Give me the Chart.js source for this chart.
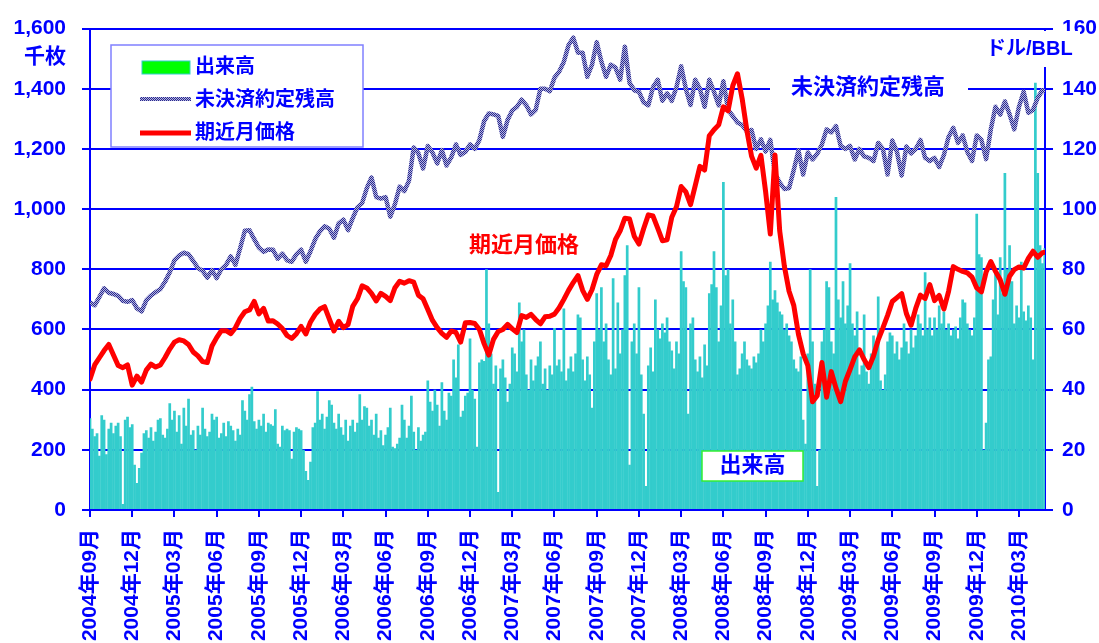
<!DOCTYPE html>
<html><head><meta charset="utf-8">
<script src="https://cdn.jsdelivr.net/npm/chart.js@4.4.0/dist/chart.umd.min.js"></script>
<style>html,body{margin:0;padding:0;background:#fff}#wrap{width:1099px;height:643px;position:relative}</style>
</head><body><div id="wrap"><canvas id="c"></canvas></div>
<script>
// quarterly tick labels (every 3 months from 2004-09)
const tickLabels = ['2004年09月','2004年12月','2005年03月','2005年06月','2005年09月','2005年12月',
 '2006年03月','2006年06月','2006年09月','2006年12月','2007年03月','2007年06月','2007年09月','2007年12月',
 '2008年03月','2008年06月','2008年09月','2008年12月','2009年03月','2009年06月','2009年09月','2009年12月','2010年03月'];
const monthsShown = 67.85;
const volPerMonth = 6;   // volume samples per month
const linePerMonth = 3;  // price / open-interest samples per month

// 出来高 (千枚)
const volume = [
305,270,245,255,180,315, 300,185,270,290,255,280, 290,245,20,300,310,275, 285,150,90,140,190,255,
265,240,275,230,260,300, 305,250,240,270,355,300, 330,260,315,220,340,280, 370,250,265,200,280,250,
340,270,245,260,320,300, 310,240,255,290,245,295, 280,265,230,270,250,365, 330,300,385,410,295,270,
300,280,320,260,290,285, 280,335,220,210,280,265, 270,265,170,260,275,270, 265,200,130,100,160,275,
290,395,300,320,270,310, 365,350,290,270,320,275, 250,300,230,280,300,260, 290,385,300,345,340,280,
300,250,320,240,265,215, 250,275,340,210,205,220, 240,350,300,240,280,380, 260,200,275,230,250,260,
430,360,330,400,350,280, 425,330,300,390,380,500, 440,550,310,330,380,390, 570,400,370,210,490,500,
495,800,620,520,420,480, 60,470,500,440,360,420, 540,520,460,690,560,600, 450,400,500,430,480,510,
560,420,470,400,480,450, 605,480,500,460,670,430, 470,510,460,520,650,640, 500,430,510,450,340,560,
720,600,740,560,620,500, 450,770,470,690,520,600, 780,880,150,560,620,520, 740,450,320,80,480,540,
460,700,600,570,620,590, 640,560,530,470,560,520, 860,760,740,320,620,640, 500,460,510,440,550,480,
720,750,860,740,560,680, 1090,780,800,620,700,560, 450,470,520,560,500,480, 470,510,490,520,600,560,
620,680,825,700,730,690, 660,650,600,620,580,560, 500,470,460,510,300,220, 520,800,560,420,80,200,
560,600,760,740,560,520, 1040,700,640,760,620,680, 820,620,580,660,450,480, 650,460,420,520,580,540,
710,430,400,450,560,590, 580,520,560,500,540,620, 560,520,600,540,580,650, 620,580,790,600,640,580,
640,600,680,620,660,600, 620,580,600,610,570,640, 700,690,620,600,580,640, 985,850,840,200,290,500,
510,700,800,650,840,720, 1120,800,880,760,620,680, 640,825,660,630,680,640, 500,1420,1120,880,820,870
];

// 未決済約定残高 (千枚)
const openInterest = [
690,680,708,737,722,718,712,695,692,698,
670,660,697,713,724,734,759,790,830,846,
855,850,828,804,795,772,797,771,800,815,
843,815,870,928,930,900,872,858,866,865,
835,852,830,825,850,865,825,860,900,926,
943,935,905,952,965,930,970,1006,1020,1070,
1105,1040,1035,1040,975,1017,1075,1060,1095,1205,
1185,1135,1210,1188,1152,1196,1145,1172,1215,1180,
1190,1215,1200,1230,1292,1318,1315,1310,1240,1296,
1328,1340,1364,1345,1315,1330,1400,1400,1392,1437,
1457,1490,1545,1570,1520,1520,1440,1480,1555,1490,
1440,1480,1470,1430,1540,1420,1395,1390,1355,1345,
1405,1430,1360,1385,1360,1405,1475,1400,1346,1430,
1400,1340,1430,1390,1345,1425,1330,1309,1288,1280,
1258,1263,1200,1232,1192,1230,1118,1088,1067,1070,
1130,1195,1115,1188,1165,1184,1215,1265,1255,1276,
1210,1200,1210,1165,1200,1175,1170,1160,1220,1200,
1115,1228,1190,1112,1208,1185,1200,1230,1170,1160,
1170,1140,1180,1240,1270,1220,1245,1190,1160,1245,
1230,1166,1265,1340,1314,1358,1315,1265,1340,1390,
1320,1330,1370,1395,1390
];

// 期近月価格 (ドル/BBL)
const price = [
43.5,48.2,50.6,53,55,51.5,48,47.3,48.2,41.5,
44.5,42.5,46.5,48.5,47.5,48.2,50.7,53.5,55.8,56.6,
56.2,55,52.5,51.2,49.3,49,54.5,57.3,59.6,59.6,
58.6,60.6,63.7,65.9,66.5,69.3,65.2,67,62.8,62.9,
61.8,60.3,58,57,58.6,61,58.5,62.5,65,66.8,
67.6,63.5,59.5,62.7,60.6,61.6,67.7,70.2,74.5,73.8,
72,69.5,72,71,69.6,73.9,76,75.4,76.2,75.7,
71.4,70.2,66.6,63,60.6,58.7,57.4,59.5,59,55.8,
62.2,62.3,62,60,55.3,51.5,56.7,59.3,60,61.7,
60.2,59,64.6,64,65,63.3,61.9,64.2,64.4,65.1,
67.2,70,73,75.6,77.9,73,70,73.2,78.3,81.5,
81.2,84.6,89.9,92.8,97,96.7,91,88.4,93.5,98.1,
97.7,93.7,89.5,89.8,97.3,100.8,107.5,105.7,101.5,107.8,
114.2,113,124.4,126.4,128,134,132.7,141,145,136.7,
126.2,117.6,113.6,117.9,105.8,91.7,118,92.8,81,72.7,
68,58.4,52,48,36,38,49,37.5,46,40.5,
36,42.7,46.7,50.9,53.2,50,47.3,51.2,56.6,60.5,
64.7,69.3,70.6,71.9,65.3,61.4,67,71.4,70.3,74.9,
69.6,71.3,66.8,72.7,80.9,80,79.3,78.8,77.4,73.8,
72.5,79.1,82.6,79.3,76.5,71.7,77.7,79.9,80.8,80.4,
83.6,86,84,85.5,85.8
];

const BLUE = '#0000ff';
const FONT = "'Liberation Sans','Noto Sans CJK JP',Arial,sans-serif";
const canvas = document.getElementById('c');
const ctx0 = canvas.getContext('2d');

function oiPattern(){
  const p = document.createElement('canvas'); p.width = 2; p.height = 2;
  const g = p.getContext('2d');
  g.fillStyle = '#b4b4e2'; g.fillRect(0,0,2,2);
  g.fillStyle = '#2a2a8c'; g.fillRect(0,0,1,1); g.fillRect(1,1,1,1);
  return ctx0.createPattern(p, 'repeat');
}
const pat = oiPattern();

const overlay = {
  id: 'overlay',
  afterDraw(chart){
    const c = chart.ctx;
    c.save();
    // legend
    c.fillStyle = '#fff'; c.fillRect(111,45,252,102);
    c.strokeStyle = '#8080ff'; c.lineWidth = 1.5; c.strokeRect(111,45,252,102);
    c.fillStyle = '#00ff00'; c.fillRect(142,61,48,13);
    c.strokeStyle = '#33cccc'; c.lineWidth = 1; c.strokeRect(142,61,48,13);
    c.strokeStyle = pat; c.lineWidth = 4; c.beginPath(); c.moveTo(140,99); c.lineTo(191,99); c.stroke();
    c.strokeStyle = '#ff0000'; c.lineWidth = 5; c.beginPath(); c.moveTo(140,133); c.lineTo(191,133); c.stroke();
    c.fillStyle = BLUE; c.textBaseline = 'middle'; c.textAlign = 'left';
    c.font = 'bold 20px ' + FONT;
    c.fillText('出来高', 195, 67);
    c.fillText('未決済約定残高', 195, 100);
    c.fillText('期近月価格', 195, 133);
    // annotations
    c.font = 'bold 22px ' + FONT;
    c.fillStyle = '#ff0000';
    c.fillText('期近月価格', 469, 246);
    c.fillStyle = '#fff'; c.fillRect(770,77,198,22);
    c.fillStyle = BLUE; c.fillText('未決済約定残高', 791, 88);
    c.fillStyle = '#fff'; c.fillRect(702,451,101,30);
    c.strokeStyle = '#33ee33'; c.lineWidth = 1.5; c.strokeRect(702,451,101,30);
    c.fillStyle = BLUE; c.textAlign = 'center'; c.fillText('出来高', 752.5, 466);
    // axis titles
    c.font = 'bold 21px ' + FONT;
    c.textAlign = 'right'; c.fillText('千枚', 66, 57);
    c.fillStyle = '#fff'; c.fillRect(982,31,98,36);
    c.fillStyle = BLUE; c.textAlign = 'left'; c.font = 'bold 20px ' + FONT;
    c.fillText('ドル/BBL', 986, 49);
    c.restore();
  }
};

new Chart(canvas, {
  type: 'bar',
  data: {
    datasets: [
      { type: 'line', label: '期近月価格', yAxisID: 'y1', order: 0,
        data: price.map((v,i) => ({x: i/linePerMonth, y: v})),
        borderColor: '#ff0000', borderWidth: 5, pointRadius: 0, tension: 0,
        borderJoinStyle: 'round', borderCapStyle: 'round' },
      { type: 'line', label: '未決済約定残高', yAxisID: 'y', order: 1,
        data: openInterest.map((v,i) => ({x: i/linePerMonth, y: v})),
        borderColor: pat, borderWidth: 4.5, pointRadius: 0, tension: 0,
        borderJoinStyle: 'round' },
      { type: 'bar', label: '出来高', yAxisID: 'y', order: 2,
        data: volume.map((v,i) => ({x: i/volPerMonth, y: v})),
        backgroundColor: '#33cccc', borderWidth: 0,
        barPercentage: 1.15, categoryPercentage: 1 }
    ]
  },
  options: {
    responsive: true, maintainAspectRatio: false, animation: false,
    layout: { padding: { top: 25, left: 0, right: 0, bottom: 0 } },
    plugins: { legend: { display: false }, tooltip: { enabled: false } },
    scales: {
      x: {
        type: 'linear', min: 0, max: monthsShown, offset: false,
        afterBuildTicks: s => { s.ticks = tickLabels.map((_, k) => ({ value: k*3 })); },
        afterFit: s => { s.height = 133; },
        grid: { drawOnChartArea: false, offset: false, color: BLUE, lineWidth: 2, tickLength: 7 },
        border: { color: BLUE, width: 2 },
        ticks: { autoSkip: false, minRotation: 90, maxRotation: 90, padding: 12, color: BLUE,
          font: { family: FONT, size: 21, weight: 'bold' },
          callback: v => tickLabels[Math.round(v/3)] }
      },
      y: {
        position: 'left', min: 0, max: 1600,
        afterFit: s => { s.width = 90; },
        grid: { color: BLUE, lineWidth: 2, tickLength: 8 },
        border: { color: BLUE, width: 2 },
        ticks: { stepSize: 200, padding: 16, color: BLUE,
          font: { family: FONT, size: 21, weight: 'bold' },
          callback: v => v.toLocaleString('en-US') }
      },
      y1: {
        position: 'right', min: 0, max: 160,
        afterFit: s => { s.width = 54; },
        grid: { drawOnChartArea: false, color: BLUE, lineWidth: 2, tickLength: 8 },
        border: { color: BLUE, width: 2 },
        ticks: { stepSize: 20, padding: 9, color: BLUE,
          font: { family: FONT, size: 21, weight: 'bold' } }
      }
    }
  },
  plugins: [overlay]
});
</script>
</body></html>
